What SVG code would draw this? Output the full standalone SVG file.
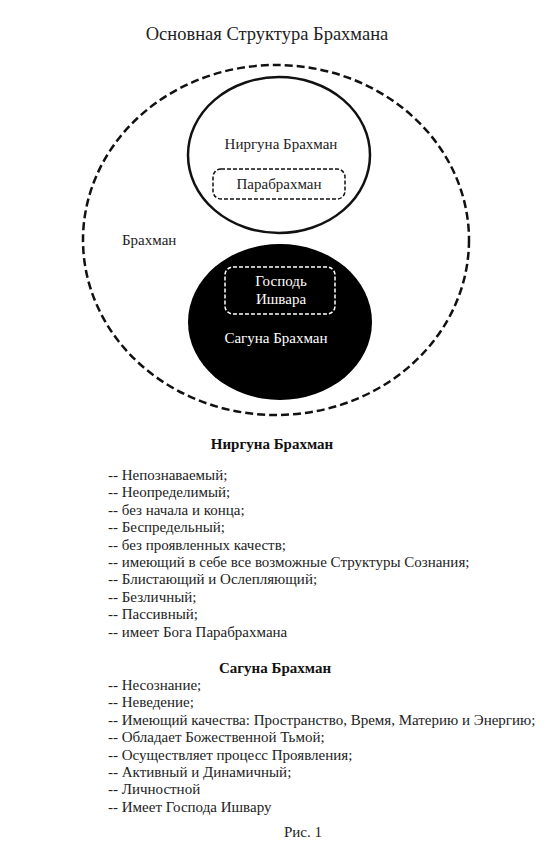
<svg xmlns="http://www.w3.org/2000/svg" width="555" height="847" viewBox="0 0 555 847">
<style>
text{font-family:"Liberation Serif","Times New Roman",serif;fill:#222}
.t{font-size:18.5px}
.n{font-size:15px}
.b{font-size:15px;font-weight:bold;fill:#111}
.w{fill:#fff}
.l{font-size:15px}
</style>
<rect width="555" height="847" fill="#fff"/>
<text class="t" x="267" y="40" text-anchor="middle">Основная Структура Брахмана</text>
<g id="brahman">
<ellipse cx="276" cy="240" rx="193" ry="175" fill="none" stroke="#111" stroke-width="2.5" stroke-dasharray="8,4"/>
<text class="n" x="122" y="245">Брахман</text>
</g>
<g id="nirguna">
<ellipse cx="279" cy="155" rx="91" ry="78" fill="#fff" stroke="#111" stroke-width="2.5"/>
<text class="n" x="281" y="149" text-anchor="middle">Ниргуна Брахман</text>
</g>
<g id="parabrahman">
<rect x="213" y="169" width="132" height="30" rx="8" fill="none" stroke="#111" stroke-width="1.5" stroke-dasharray="4,2"/>
<text class="n" x="279" y="189" text-anchor="middle">Парабрахман</text>
</g>
<g id="saguna">
<ellipse cx="280" cy="322" rx="92" ry="78" fill="#000"/>
<text class="n w" x="276" y="343" text-anchor="middle">Сагуна Брахман</text>
</g>
<g id="ishvara">
<rect x="225" y="267" width="110" height="47" rx="8" fill="none" stroke="#fff" stroke-width="1.5" stroke-dasharray="4,2"/>
<text class="n w" x="281" y="286" text-anchor="middle">Господь</text>
<text class="n w" x="281" y="304" text-anchor="middle">Ишвара</text>
</g>
<g id="connectors"></g>
<g id="nirguna-list">
<text class="b" x="272" y="449" text-anchor="middle">Ниргуна Брахман</text>
<text class="l" x="108" y="480">-- Непознаваемый;</text>
<text class="l" x="108" y="497.4">-- Неопределимый;</text>
<text class="l" x="108" y="514.8">-- без начала и конца;</text>
<text class="l" x="108" y="532.2">-- Беспредельный;</text>
<text class="l" x="108" y="549.6">-- без проявленных качеств;</text>
<text class="l" x="108" y="567">-- имеющий в себе все возможные Структуры Сознания;</text>
<text class="l" x="108" y="584.4">-- Блистающий и Ослепляющий;</text>
<text class="l" x="108" y="601.8">-- Безличный;</text>
<text class="l" x="108" y="619.2">-- Пассивный;</text>
<text class="l" x="108" y="636.6">-- имеет Бога  Парабрахмана</text>
</g>
<g id="saguna-list">
<text class="b" x="275" y="673" text-anchor="middle">Сагуна Брахман</text>
<text class="l" x="108" y="690">-- Несознание;</text>
<text class="l" x="108" y="707.4">-- Неведение;</text>
<text class="l" x="108" y="724.8">-- Имеющий качества: Пространство, Время, Материю и Энергию;</text>
<text class="l" x="108" y="742.2">-- Обладает Божественной Тьмой;</text>
<text class="l" x="108" y="759.6">-- Осуществляет процесс Проявления;</text>
<text class="l" x="108" y="777">-- Активный и Динамичный;</text>
<text class="l" x="108" y="794.4">-- Личностной</text>
<text class="l" x="108" y="811.8">-- Имеет Господа Ишвару</text>
</g>
<text class="l" x="303" y="837" text-anchor="middle">Рис. 1</text>
</svg>
